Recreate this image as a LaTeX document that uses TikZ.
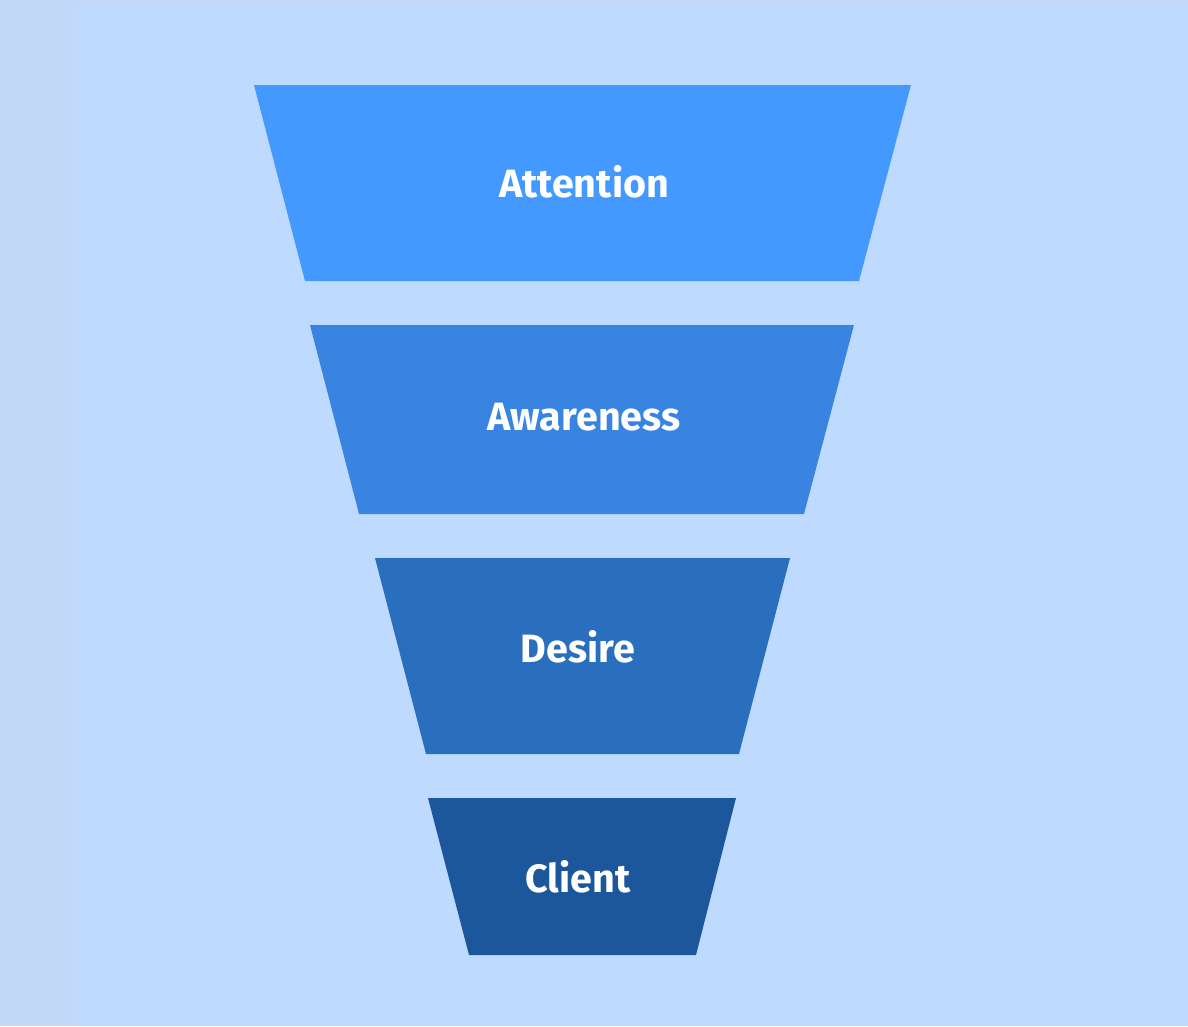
\documentclass[tikz,border=0pt]{standalone}
\usepackage{fontspec}
\setmainfont{Fira Sans}
\definecolor{bgouter}{HTML}{C2D8F9}
\definecolor{bginner}{HTML}{BFDAFF}
\definecolor{c1}{HTML}{4499FF}
\definecolor{c2}{HTML}{3884E0}
\definecolor{c3}{HTML}{2A6EBE}
\definecolor{c4}{HTML}{1C579C}
\begin{document}
\begin{tikzpicture}[x=1pt,y=-1pt,
  lbl/.style={text=white,font=\fontsize{39.5}{42}\selectfont\bfseries,inner sep=0pt}]
\fill[bgouter] (0,0) rectangle (1188,1026);
\useasboundingbox (0,0) rectangle (1188,1026);
\fill[bginner] (77,5) rectangle (1188,1026);
\fill[c1] (254,85) -- (911,85) -- (859,281) -- (305,281) -- cycle;
\fill[c2] (310,325) -- (854,325) -- (804,514) -- (359,514) -- cycle;
\fill[c3] (375,558) -- (790,558) -- (739,754) -- (426,754) -- cycle;
\fill[c4] (428,798) -- (736,798) -- (696,955) -- (469,955) -- cycle;
\node[lbl] (attention) at (584,182) {Attention};
\node[lbl] (awareness) at (584,417) {Awareness};
\node[lbl] (desire) at (578,647) {Desire};
\node[lbl] (client) at (578,877) {Client};
\end{tikzpicture}
\end{document}
